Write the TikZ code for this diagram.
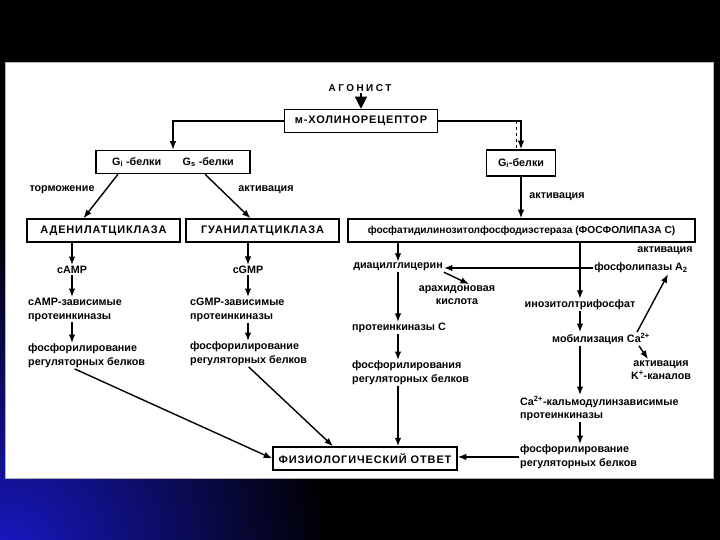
\documentclass[tikz,border=0pt]{standalone}
\usepackage{fontspec}
\setmainfont{Liberation Sans}
\usetikzlibrary{arrows.meta}

\begin{document}
\begin{tikzpicture}[x=1bp, y=-1bp,
        box/.style={draw, line width=1.5bp, inner sep=2bp, minimum height=23bp,
            font=\fontsize{11}{13}\selectfont\bfseries\addfontfeatures{LetterSpace=8}},
        txt/.style={inner sep=1bp, align=left, font=\fontsize{10.8}{13.5}\selectfont\bfseries},
        arr/.style={line width=1.4bp, -{Latex[length=8.5bp, width=6.5bp]}}]
        % slide background
        \useasboundingbox (0,0) rectangle (720,540);
        \fill[black] (0,0) rectangle (720,540);
        \begin{scope}
            \clip (0,0) rectangle (720,540);
            \shade[inner color={rgb,255:red,25;green,25;blue,200}, outer color=black] (0,560) circle (330);
        \end{scope}
        \filldraw[white, draw=gray!60, line width=0.5bp] (5,62) rectangle (713,478);
        % receptor
        \node[txt, font=\fontsize{10}{12}\selectfont\bfseries\addfontfeatures{LetterSpace=25}] (agonist) at (360,88) {АГОНИСТ};
        \node[box, minimum width=153bp] (rec) at (361,121) {м-ХОЛИНОРЕЦЕПТОР};
        \draw[line width=1.3bp, -{Triangle[length=12bp, width=12bp]}] (agonist.south -| rec.north) -- (rec.north);
        % G proteins
        \node[box, minimum width=154bp, font=\fontsize{10.8}{13}\selectfont\bfseries] (gleft) at (173,162)
            {G\textsubscript{i} -белки\hspace{2em}G\textsubscript{s} -белки};
        \node[box, minimum width=69bp, minimum height=26bp, font=\fontsize{10.8}{13}\selectfont\bfseries] (gright) at (521,163)
            {G\textsubscript{i}-белки};
        \draw[arr] (rec.west) -| (gleft.north);
        \draw[arr] (rec.east) -| (gright.north);
        \draw[dashed, line width=0.6bp] ([xshift=-5bp]gright.north |- rec.east) -- ([xshift=-5bp]gright.north);
        % enzymes
        \node[box, minimum width=153bp] (adenyl) at (103.5,230.5) {АДЕНИЛАТЦИКЛАЗА};
        \node[box, minimum width=153bp] (guanyl) at (262.5,230.5) {ГУАНИЛАТЦИКЛАЗА};
        \node[box, minimum width=347bp, inner sep=1bp, font=\fontsize{10.2}{12}\selectfont\bfseries] (plc) at (521.5,230.5)
            {фосфатидилинозитолфосфодиэстераза (ФОСФОЛИПАЗА С)};
        \node[txt] (inhib) at (62,190) {торможение};
        \node[txt] (activa) at (266,190) {активация};
        \node[txt] (activb) at (557,197) {активация};
        \draw[arr] ([xshift=-55bp]gleft.south) -- ([xshift=-20bp]adenyl.north);
        \draw[arr] ([xshift=32bp]gleft.south) -- ([xshift=-12bp]guanyl.north);
        \draw[arr] (gright.south) -- (gright.south |- plc.north);
        % cAMP branch
        \node[txt] (camp) at (72,270) {cAMP};
        \node[txt, anchor=north west] (campkin) at (27,297) {cAMP-зависимые\\протеинкиназы};
        \node[txt, anchor=north west] (campphos) at (27,343) {фосфорилирование\\регуляторных белков};
        \draw[arr] (adenyl.south -| camp) -- (camp);
        \draw[arr] (camp) -- (camp |- campkin.north);
        \draw[arr] (campkin.south -| camp) -- (campphos.north -| camp);
        % cGMP branch
        \node[txt] (cgmp) at (248,270) {cGMP};
        \node[txt, anchor=north west] (cgmpkin) at (189,297) {cGMP-зависимые\\протеинкиназы};
        \node[txt, anchor=north west] (cgmpphos) at (189,341) {фосфорилирование\\регуляторных белков};
        \draw[arr] (guanyl.south -| cgmp) -- (cgmp);
        \draw[arr] (cgmp) -- (cgmp |- cgmpkin.north);
        \draw[arr] (cgmpkin.south -| cgmp) -- (cgmpphos.north -| cgmp);
        % phospholipase C branch
        \node[txt] (dag) at (398,267) {диацилглицерин};
        \node[txt] (pla) at (641,268) {фосфолипазы A\textsubscript{2}};
        \node[txt] (activc) at (665,251) {активация};
        \node[txt, align=center] (arach) at (457,295) {арахидоновая\\кислота};
        \node[txt, anchor=west] (pkc) at (351,328) {протеинкиназы С};
        \node[txt, anchor=north west] (pkcphos) at (351,360) {фосфорилирования\\регуляторных белков};
        \node[txt] (ip3) at (580,305) {инозитолтрифосфат};
        \node[txt] (mobil) at (601,339) {мобилизация Ca\textsuperscript{2+}};
        \node[txt, align=center] (kchan) at (661,370) {активация\\K\textsuperscript{+}-каналов};
        \node[txt, anchor=north west] (camkin) at (519,395) {Ca\textsuperscript{2+}-кальмодулинзависимые\\протеинкиназы};
        \node[txt, anchor=north west] (camphos) at (519,444) {фосфорилирование\\регуляторных белков};
        \draw[arr] (plc.south -| dag) -- (dag);
        \draw[arr] (plc.south -| ip3) -- (ip3);
        \draw[arr] (pla.west) -- (dag.east |- pla.west);
        \draw[arr] (dag.south east) -- ([xshift=12bp]arach.north);
        \draw[arr] (dag) -- (dag |- pkc.north);
        \draw[arr] (pkc.south -| dag) -- (pkcphos.north -| dag);
        \draw[arr] (ip3) -- (ip3 |- mobil.north);
        \draw[arr] ([xshift=-14bp]mobil.north east) -- ([xshift=27bp]pla.south);
        \draw[arr] ([xshift=-12bp]mobil.south east) -- ([xshift=-13bp]kchan.north);
        \draw[arr] (mobil.south -| ip3) -- (camkin.north -| ip3);
        \draw[arr] (camkin.south -| ip3) -- (camphos.north -| ip3);
        % response
        \node[box, minimum width=184bp] (resp) at (365,458.5) {ФИЗИОЛОГИЧЕСКИЙ ОТВЕТ};
        \draw[arr] ([xshift=-12bp]campphos.south) -- (resp.west);
        \draw[arr] (cgmpphos.south) -- ([xshift=-32bp]resp.north);
        \draw[arr] (pkcphos.south -| dag) -- (resp.north -| dag);
        \draw[arr] (camphos.west) -- (camphos.west -| resp.east);
\end{tikzpicture}
\end{document}
